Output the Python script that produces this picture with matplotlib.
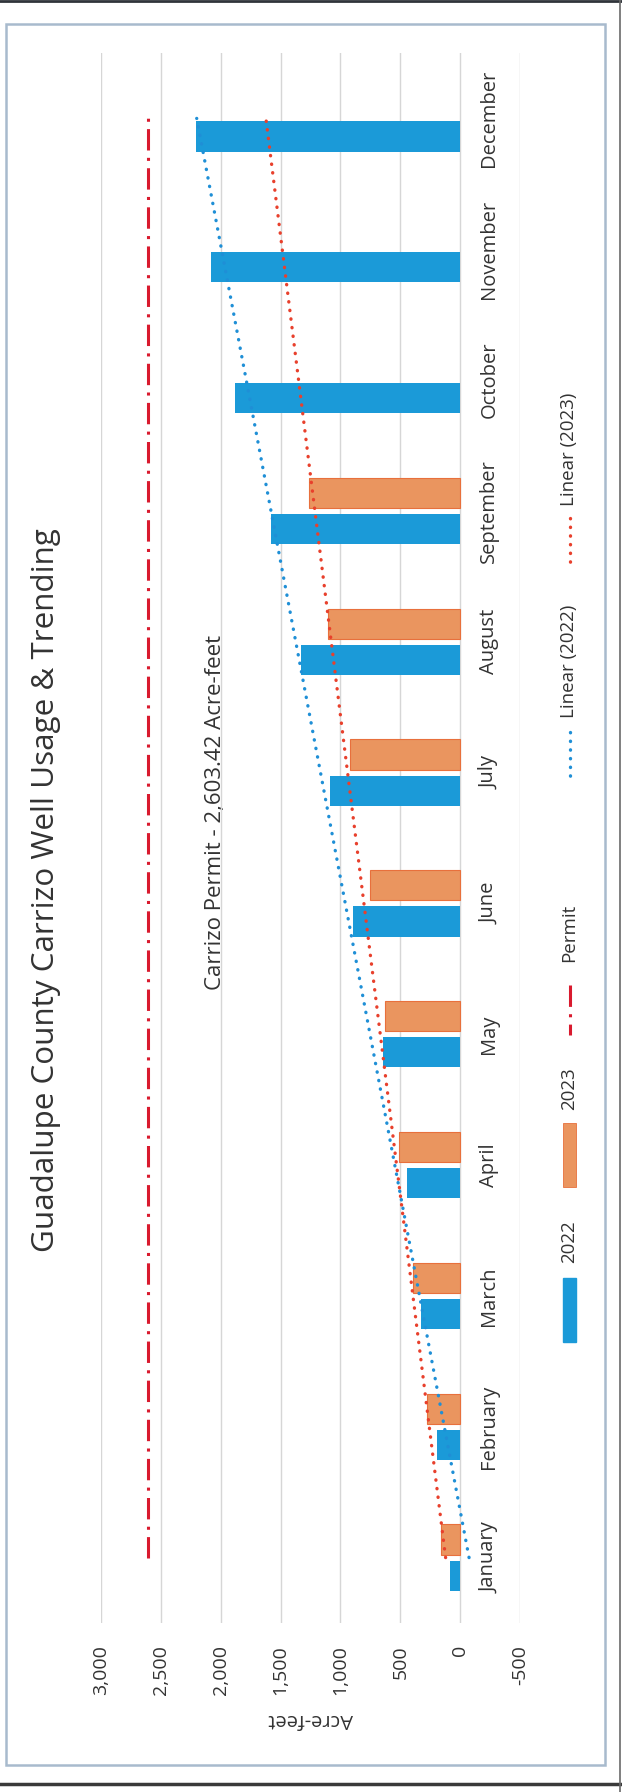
import numpy as np
import matplotlib.pyplot as plt
from matplotlib.patches import Rectangle

plt.rcParams['font.family'] = ['Open Sans', 'DejaVu Sans']

# monthly Carrizo well usage, acre-feet (2023 only through September)
months = ['January', 'February', 'March', 'April', 'May', 'June', 'July',
          'August', 'September', 'October', 'November', 'December']
usage_2022 = [88, 190, 325, 447, 643, 893, 1090, 1332, 1582, 1878, 2078, 2210]
usage_2023 = [160, 278, 390, 514, 624, 755, 916, 1107, 1262]
permit = 2603.42
ticks = [-500, 0, 500, 1000, 1500, 2000, 2500, 3000]
tick_labels = ['-500', '0', '500', '1,000', '1,500', '2,000', '2,500', '3,000']

blue = '#1b9ad8'
orange = '#ea955f'
orange_edge = '#e8703c'
trend_blue = '#1f8fd6'
trend_red = '#e8402c'
permit_red = '#d91a2e'
text_col = '#333333'

dotted = (0, (0.1, 2.5))
dashdot = (0, (7, 2.4, 1, 2.4))

# figure is the chart turned a quarter turn counter-clockwise
fig = plt.figure(figsize=(6.22, 17.92), dpi=100)

ov = fig.add_axes([0, 0, 1, 1], zorder=-1)
ov.set_xlim(0, 622)
ov.set_ylim(1792, 0)
ov.axis('off')

ax = fig.add_axes([101 / 622, (1792 - 1623) / 1792, 419 / 622, 1570 / 1792])
ax.patch.set_visible(False)

pos = np.arange(len(months))
pos23 = pos[:len(usage_2023)]
ax.barh(pos - 0.138, usage_2022, height=0.23, color=blue, zorder=2)
ax.barh(pos23 + 0.138, usage_2023, height=0.23, color=orange,
        edgecolor=orange_edge, linewidth=0.8, zorder=2)

# permit line and linear trends (2023 trend forecast to December)
ax.plot([permit] * len(pos), pos, color=permit_red, lw=2.2, ls=dashdot, zorder=3)
fit22 = np.polyfit(pos, usage_2022, 1)
fit23 = np.polyfit(pos23, usage_2023, 1)
ax.plot(np.polyval(fit22, pos), pos, color=trend_blue, lw=2.4, ls=dotted,
        dash_capstyle='round', zorder=4)
ax.plot(np.polyval(fit23, pos), pos, color=trend_red, lw=2.4, ls=dotted,
        dash_capstyle='round', zorder=4)

ax.set_xlim(3000, -500)
ax.set_ylim(-0.5, 11.5)
ax.set_xticks(ticks)
ax.set_xticklabels(tick_labels, rotation=90)
ax.tick_params(axis='x', length=0, pad=16, labelsize=14, colors=text_col)
ax.set_yticks([])
for s in ax.spines.values():
    s.set_visible(False)
ax.grid(axis='x', color='#d6d6d6', lw=1)
ax.set_axisbelow(True)
ax.set_xlabel('Acre-feet', rotation=180, fontsize=14.5, labelpad=10, color=text_col)

for i, m in enumerate(months):
    ax.annotate(m, (0, i), xytext=(21, 0), textcoords='offset points',
                rotation=90, ha='center', va='center', fontsize=14.5, color=text_col)

# titles
ov.text(46, 890, 'Guadalupe County Carrizo Well Usage & Trending', rotation=90,
        ha='center', va='center', fontsize=22.6, color=text_col)
ov.text(216, 812, 'Carrizo Permit - 2,603.42 Acre-feet', rotation=90,
        ha='center', va='center', fontsize=16, color=text_col)

# legend
ov.add_patch(Rectangle((563, 1278), 13, 64, color=blue))
ov.add_patch(Rectangle((563, 1123), 13, 64, facecolor=orange, edgecolor=orange_edge, lw=0.6))
ov.plot([569.5, 569.5], [985, 1035], color=permit_red, lw=2.2, ls=dashdot)
ov.plot([569.5, 569.5], [732, 781], color=trend_blue, lw=2.4, ls=dotted, dash_capstyle='round')
ov.plot([569.5, 569.5], [518, 566], color=trend_red, lw=2.4, ls=dotted, dash_capstyle='round')
for label, yc in [('2022', 1242), ('2023', 1089), ('Permit', 933),
                  ('Linear (2022)', 661), ('Linear (2023)', 449)]:
    ov.text(569, yc, label, rotation=90, ha='center', va='center',
            fontsize=13.5, color=text_col)

# chart border and scan frame
ov.add_patch(Rectangle((6, 24), 599, 1741, fill=False, edgecolor='#a8bacd', lw=1.8))
ov.plot([0, 622], [1.5, 1.5], color='#30343a', lw=2)
ov.plot([0, 622], [1784, 1784], color='#3a3a3a', lw=2.5)
ov.plot([620, 620], [0, 1792], color='#6a6a6a', lw=1.2)

fig.savefig('out.png', dpi=100)
